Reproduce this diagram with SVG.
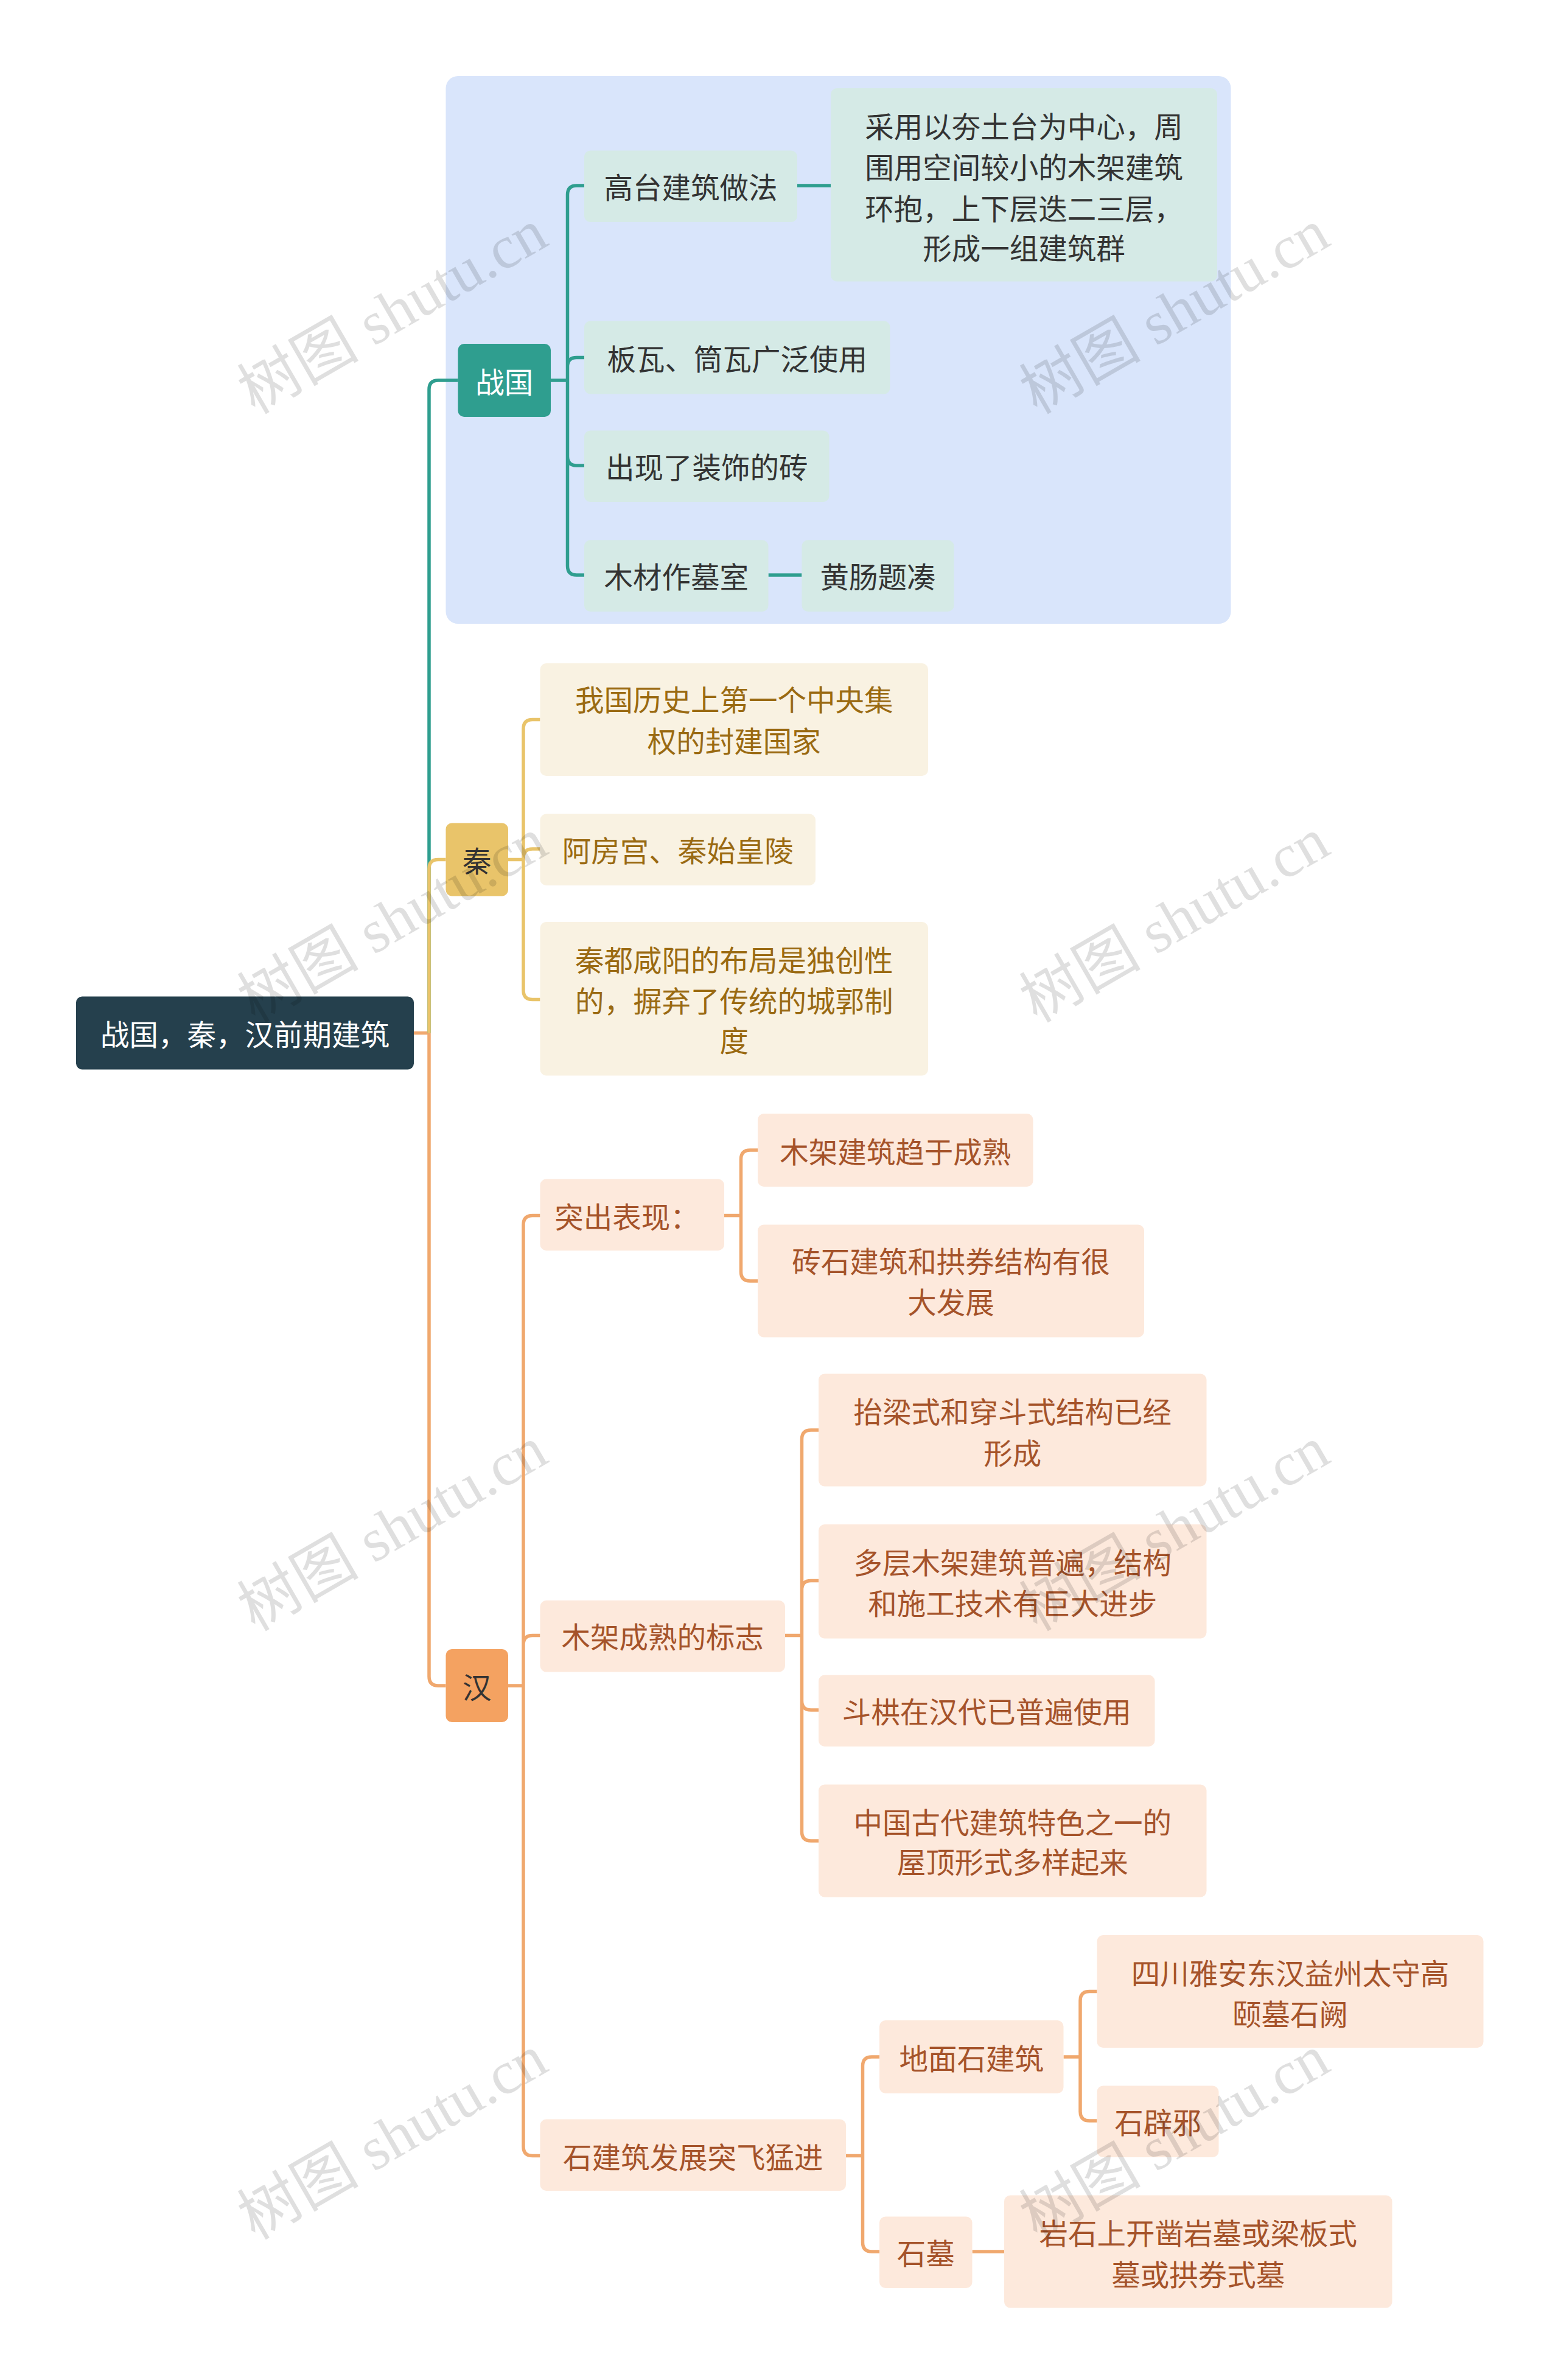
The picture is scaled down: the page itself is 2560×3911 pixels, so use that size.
<svg xmlns="http://www.w3.org/2000/svg" width="2560" height="3911" viewBox="0 0 2560 3911">
<style>
text{font-family:"Noto Sans CJK SC","Liberation Sans",sans-serif;font-size:19px;text-anchor:middle;dominant-baseline:central}
.w{fill:#fff}
.d{fill:#333}
.q{fill:#9a6a12}
.h{fill:#a5532a}
.c{fill:none;stroke-width:2.2}
.t{stroke:#2f9e8f}.y{stroke:#e9c46a}.o{stroke:#f0a86e}
.wm{font-family:"Liberation Serif","Noto Sans CJK SC",serif;font-size:40px;fill:#000;opacity:0.12}
</style>
<rect width="2560" height="3911" fill="#fff"/>
<g transform="scale(2.5)">
<rect x="293" y="50" width="516" height="360" rx="8" fill="#d9e5fb"/>
<g id="connectors">
<path class="c o" d="M272,679H282"/>
<path class="c t" d="M282,679V256Q282,250 288,250H301"/>
<path class="c y" d="M282,679V571Q282,565 288,565H293"/>
<path class="c o" d="M282,679V1102Q282,1108 288,1108H293"/>
<path class="c t" d="M362,250H373V128Q373,122 379,122H384M373,250V241Q373,235 379,235H384M373,250V300Q373,306 379,306H384M373,250V372Q373,378 379,378H384M524,122H546M505,378H527"/>
<path class="c y" d="M334,565H344V479Q344,473 350,473H355M344,565V564Q344,558 350,558H355M344,565V651Q344,657 350,657H355"/>
<path class="c o" d="M334,1108H344V805Q344,799 350,799H355M344,1108V1081Q344,1075 350,1075H355M344,1108V1411Q344,1417 350,1417H355"/>
<path class="c o" d="M476,799H487V762Q487,756 493,756H498M487,799V836Q487,842 493,842H498"/>
<path class="c o" d="M516,1075H527V946Q527,940 533,940H538M527,1075V1045Q527,1039 533,1039H538M527,1075V1118Q527,1124 533,1124H538M527,1075V1204Q527,1210 533,1210H538"/>
<path class="c o" d="M556,1417H567V1358Q567,1352 573,1352H578M567,1417V1474Q567,1480 573,1480H578"/>
<path class="c o" d="M699,1352H710V1315Q710,1309 716,1309H721M710,1352V1388Q710,1394 716,1394H721"/>
<path class="c o" d="M639,1480H660"/>
</g>
<g id="root"><rect x="50" y="655" width="222" height="48" rx="4" fill="#25404d"/><text class="w" x="161" y="679">战国，秦，汉前期建筑</text></g>
<g id="zhanguo"><rect x="301" y="226" width="61" height="48" rx="4" fill="#2f9e8f"/><text class="w" x="331.5" y="250">战国</text></g>
<g id="gaotai"><rect x="384" y="99" width="140" height="47" rx="4" fill="#d5eae6"/><text class="d" x="454" y="122">高台建筑做法</text></g>
<g id="gaotai-desc"><rect x="546" y="58" width="254" height="127" rx="4" fill="#d5eae6"/><text class="d" x="673" y="82">采用以夯土台为中心，周</text><text class="d" x="673" y="109">围用空间较小的木架建筑</text><text class="d" x="673" y="136">环抱，上下层迭二三层，</text><text class="d" x="673" y="162">形成一组建筑群</text></g>
<g id="banwa"><rect x="384" y="211" width="201" height="48" rx="4" fill="#d5eae6"/><text class="d" x="484.5" y="235">板瓦、筒瓦广泛使用</text></g>
<g id="zhuan"><rect x="384" y="283" width="161" height="47" rx="4" fill="#d5eae6"/><text class="d" x="464.5" y="306">出现了装饰的砖</text></g>
<g id="mushi"><rect x="384" y="355" width="121" height="47" rx="4" fill="#d5eae6"/><text class="d" x="444.5" y="378">木材作墓室</text></g>
<g id="huangchang"><rect x="527" y="355" width="100" height="47" rx="4" fill="#d5eae6"/><text class="d" x="577" y="378">黄肠题凑</text></g>
<g id="qin"><rect x="293" y="541" width="41" height="48" rx="4" fill="#e9c46a"/><text class="d" x="313.5" y="565">秦</text></g>
<g id="qin1"><rect x="355" y="436" width="255" height="74" rx="4" fill="#f9f2e2"/><text class="q" x="482.5" y="459">我国历史上第一个中央集</text><text class="q" x="482.5" y="486">权的封建国家</text></g>
<g id="qin2"><rect x="355" y="535" width="181" height="47" rx="4" fill="#f9f2e2"/><text class="q" x="445.5" y="558">阿房宫、秦始皇陵</text></g>
<g id="qin3"><rect x="355" y="606" width="255" height="101" rx="4" fill="#f9f2e2"/><text class="q" x="482.5" y="630">秦都咸阳的布局是独创性</text><text class="q" x="482.5" y="657">的，摒弃了传统的城郭制</text><text class="q" x="482.5" y="683">度</text></g>
<g id="han"><rect x="293" y="1084" width="41" height="48" rx="4" fill="#f4a261"/><text class="d" x="313.5" y="1108">汉</text></g>
<g id="tuchu"><rect x="355" y="775" width="121" height="47" rx="4" fill="#fde9dc"/><text class="h" x="412" y="799">突出表现：</text></g>
<g id="tc1"><rect x="498" y="732" width="181" height="48" rx="4" fill="#fde9dc"/><text class="h" x="588.5" y="756">木架建筑趋于成熟</text></g>
<g id="tc2"><rect x="498" y="805" width="254" height="74" rx="4" fill="#fde9dc"/><text class="h" x="625" y="828">砖石建筑和拱券结构有很</text><text class="h" x="625" y="855">大发展</text></g>
<g id="mujia"><rect x="355" y="1052" width="161" height="47" rx="4" fill="#fde9dc"/><text class="h" x="435.5" y="1075">木架成熟的标志</text></g>
<g id="mj1"><rect x="538" y="903" width="255" height="74" rx="4" fill="#fde9dc"/><text class="h" x="665.5" y="927">抬梁式和穿斗式结构已经</text><text class="h" x="665.5" y="954">形成</text></g>
<g id="mj2"><rect x="538" y="1002" width="255" height="75" rx="4" fill="#fde9dc"/><text class="h" x="665.5" y="1026">多层木架建筑普遍，结构</text><text class="h" x="665.5" y="1053">和施工技术有巨大进步</text></g>
<g id="mj3"><rect x="538" y="1101" width="221" height="47" rx="4" fill="#fde9dc"/><text class="h" x="648.5" y="1124">斗栱在汉代已普遍使用</text></g>
<g id="mj4"><rect x="538" y="1173" width="255" height="74" rx="4" fill="#fde9dc"/><text class="h" x="665.5" y="1197">中国古代建筑特色之一的</text><text class="h" x="665.5" y="1223">屋顶形式多样起来</text></g>
<g id="shijianzhu"><rect x="355" y="1393" width="201" height="47" rx="4" fill="#fde9dc"/><text class="h" x="455.5" y="1417">石建筑发展突飞猛进</text></g>
<g id="dimian"><rect x="578" y="1328" width="121" height="48" rx="4" fill="#fde9dc"/><text class="h" x="638.5" y="1352">地面石建筑</text></g>
<g id="shique"><rect x="721" y="1272" width="254" height="74" rx="4" fill="#fde9dc"/><text class="h" x="848" y="1296">四川雅安东汉益州太守高</text><text class="h" x="848" y="1323">颐墓石阙</text></g>
<g id="shibixie"><rect x="721" y="1371" width="80" height="47" rx="4" fill="#fde9dc"/><text class="h" x="761" y="1394">石辟邪</text></g>
<g id="shimu"><rect x="578" y="1457" width="61" height="47" rx="4" fill="#fde9dc"/><text class="h" x="608.5" y="1480">石墓</text></g>
<g id="yanmu"><rect x="660" y="1443" width="255" height="74" rx="4" fill="#fde9dc"/><text class="h" x="787.5" y="1467">岩石上开凿岩墓或梁板式</text><text class="h" x="787.5" y="1494">墓或拱券式墓</text></g>
<g id="watermarks">
<text class="wm" transform="translate(258,205) rotate(-30)">树图 shutu.cn</text>
<text class="wm" transform="translate(772,205) rotate(-30)">树图 shutu.cn</text>
<text class="wm" transform="translate(258,605) rotate(-30)">树图 shutu.cn</text>
<text class="wm" transform="translate(772,605) rotate(-30)">树图 shutu.cn</text>
<text class="wm" transform="translate(258,1005) rotate(-30)">树图 shutu.cn</text>
<text class="wm" transform="translate(772,1005) rotate(-30)">树图 shutu.cn</text>
<text class="wm" transform="translate(258,1405) rotate(-30)">树图 shutu.cn</text>
<text class="wm" transform="translate(772,1405) rotate(-30)">树图 shutu.cn</text>
</g>
</g>
</svg>
